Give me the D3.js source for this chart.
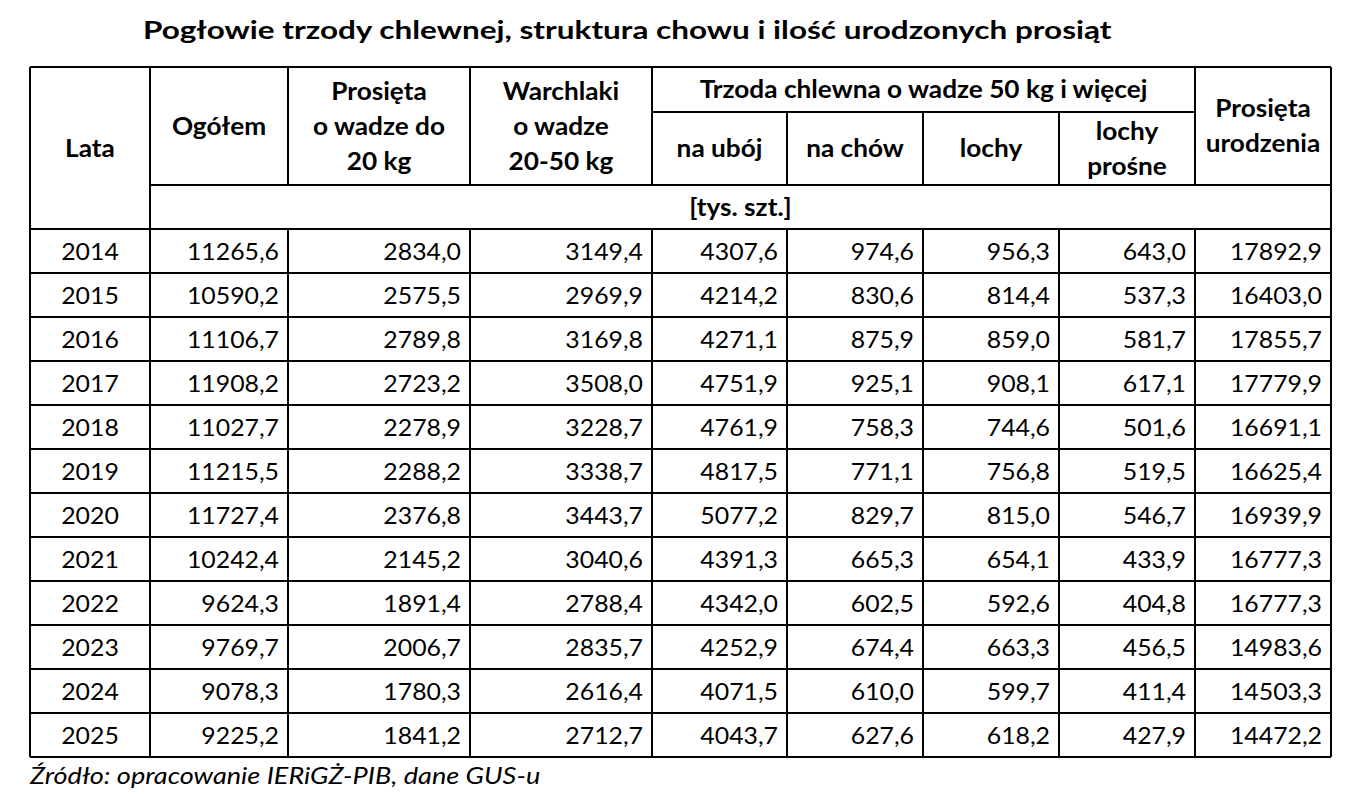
<!DOCTYPE html>
<html>
<head>
<meta charset="utf-8">
<script src="https://cdn.jsdelivr.net/npm/d3@7"></script>
<style>
  body { margin: 0; background: #fff; }
  svg { display: block; }
  text { font-family: Lato, "Open Sans", sans-serif; fill: #000; }
</style>
</head>
<body>
<svg id="chart" width="1368" height="797"></svg>
<script>
// dane: pogłowie trzody chlewnej [tys. szt.]
var years = [2014, 2015, 2016, 2017, 2018, 2019, 2020, 2021, 2022, 2023, 2024, 2025];
var ogolem = [11265.6, 10590.2, 11106.7, 11908.2, 11027.7, 11215.5, 11727.4, 10242.4, 9624.3, 9769.7, 9078.3, 9225.2];
var prosieta20 = [2834.0, 2575.5, 2789.8, 2723.2, 2278.9, 2288.2, 2376.8, 2145.2, 1891.4, 2006.7, 1780.3, 1841.2];
var warchlaki = [3149.4, 2969.9, 3169.8, 3508.0, 3228.7, 3338.7, 3443.7, 3040.6, 2788.4, 2835.7, 2616.4, 2712.7];
var naUboj = [4307.6, 4214.2, 4271.1, 4751.9, 4761.9, 4817.5, 5077.2, 4391.3, 4342.0, 4252.9, 4071.5, 4043.7];
var naChow = [974.6, 830.6, 875.9, 925.1, 758.3, 771.1, 829.7, 665.3, 602.5, 674.4, 610.0, 627.6];
var lochy = [956.3, 814.4, 859.0, 908.1, 744.6, 756.8, 815.0, 654.1, 592.6, 663.3, 599.7, 618.2];
var lochyProsne = [643.0, 537.3, 581.7, 617.1, 501.6, 519.5, 546.7, 433.9, 404.8, 456.5, 411.4, 427.9];
var urodzenia = [17892.9, 16403.0, 17855.7, 17779.9, 16691.1, 16625.4, 16939.9, 16777.3, 16777.3, 14983.6, 14503.3, 14472.2];

var title = 'Pogłowie trzody chlewnej, struktura chowu i ilość urodzonych prosiąt';
var source = 'Źródło: opracowanie IERiGŻ-PIB, dane GUS-u';
var unitLabel = '[tys. szt.]';
var groupLabel = 'Trzoda chlewna o wadze 50 kg i więcej';

var series = [ogolem, prosieta20, warchlaki, naUboj, naChow, lochy, lochyProsne, urodzenia];

var svg = d3.select('#chart');

// kolumny: krawędzie
var colEdges = [30, 150, 288, 470, 652, 787, 923, 1059, 1195, 1331];
var colIdx = d3.range(colEdges.length - 1);
var xLeft = d3.scaleOrdinal().domain(colIdx).range(colEdges.slice(0, -1));
var xRight = d3.scaleOrdinal().domain(colIdx).range(colEdges.slice(1));

var yTop = 67, yMid = 112, yHead = 185, yBody = 229, yBottom = 757;
var y = d3.scaleBand().domain(years).range([yBody, yBottom]);

var locale = d3.formatLocale({decimal: ',', thousands: '', grouping: [3], currency: ['', '']});
var fmt = locale.format('.1f');

// tekst z rozciągnięciem poziomym (Calibri w oryginale jest szerszy)
function label(parent, x, yy, str, o) {
  var t = parent.append('text')
    .attr('transform', 'translate(' + x + ',' + yy + ') scale(' + (o.sx || 1) + ',1)')
    .attr('text-anchor', o.anchor || 'start')
    .attr('font-size', o.size || 23)
    .text(str);
  if (o.bold) t.attr('font-weight', 700);
  if (o.italic) t.attr('font-style', 'italic');
  return t;
}

// tytuł
label(svg, 143, 39, title, {size: 25, bold: true, sx: 1.26});

// nagłówki
var headers = [
  {c0: 0, c1: 1, top: yTop, bot: yBody, lines: ['Lata']},
  {c0: 1, c1: 2, top: yTop, bot: yHead, lines: ['Ogółem']},
  {c0: 2, c1: 3, top: yTop, bot: yHead, lines: ['Prosięta', 'o wadze do', '20 kg']},
  {c0: 3, c1: 4, top: yTop, bot: yHead, lines: ['Warchlaki', 'o wadze', '20-50 kg']},
  {c0: 4, c1: 8, top: yTop, bot: yMid, lines: [groupLabel]},
  {c0: 4, c1: 5, top: yMid, bot: yHead, lines: ['na ubój']},
  {c0: 5, c1: 6, top: yMid, bot: yHead, lines: ['na chów']},
  {c0: 6, c1: 7, top: yMid, bot: yHead, lines: ['lochy']},
  {c0: 7, c1: 8, top: yMid, bot: yHead, lines: ['lochy', 'prośne']},
  {c0: 8, c1: 9, top: yTop, bot: yHead, lines: ['Prosięta', 'urodzenia']},
  {c0: 1, c1: 9, top: yHead, bot: yBody, lines: [unitLabel]}
];
var lh = 35;
headers.forEach(function(h) {
  var cx = (xLeft(h.c0) + xRight(h.c1 - 1)) / 2;
  var cy = (h.top + h.bot) / 2;
  var n = h.lines.length;
  h.lines.forEach(function(l, i) {
    label(svg, cx, cy + (i - (n - 1) / 2) * lh + 8.5, l, {size: 24.5, bold: true, sx: 1.07, anchor: 'middle'});
  });
});

// wiersze danych
var rows = svg.append('g').selectAll('g').data(years).join('g')
  .attr('transform', function(d) { return 'translate(0,' + (y(d) + y.bandwidth() / 2) + ')'; });

rows.each(function(d, i) {
  var r = d3.select(this);
  label(r, (xLeft(0) + xRight(0)) / 2, 8.5, d, {sx: 1.08, anchor: 'middle'});
  series.forEach(function(s, j) {
    label(r, xRight(j + 1) - 9, 8.5, fmt(s[i]), {sx: 1.08, anchor: 'end'});
  });
});

// linie siatki
var grid = svg.append('g').attr('stroke', '#000').attr('stroke-width', 1.4).attr('shape-rendering', 'crispEdges');
function hline(x1, x2, yy) { grid.append('line').attr('x1', x1).attr('x2', x2).attr('y1', yy).attr('y2', yy); }
function vline(xx, y1, y2) { grid.append('line').attr('x1', xx).attr('x2', xx).attr('y1', y1).attr('y2', y2); }

hline(colEdges[0], colEdges[9], yTop);
hline(colEdges[4], colEdges[8], yMid);
hline(colEdges[1], colEdges[9], yHead);
years.forEach(function(d) { hline(colEdges[0], colEdges[9], y(d)); });
hline(colEdges[0], colEdges[9], yBottom);

vline(colEdges[0], yTop, yBottom);
vline(colEdges[1], yTop, yBottom);
vline(colEdges[9], yTop, yBottom);
[2, 3, 4, 8].forEach(function(k) { vline(colEdges[k], yTop, yHead); vline(colEdges[k], yBody, yBottom); });
[5, 6, 7].forEach(function(k) { vline(colEdges[k], yMid, yHead); vline(colEdges[k], yBody, yBottom); });

// źródło
label(svg, 30, 784, source, {size: 24, italic: true, sx: 1.13});
</script>
</body>
</html>
